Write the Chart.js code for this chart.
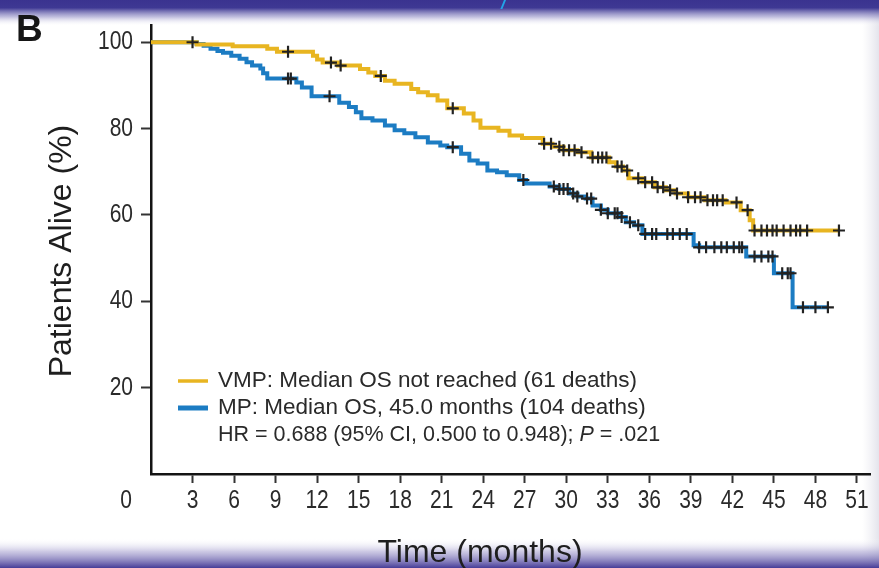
<!DOCTYPE html>
<html>
<head>
<meta charset="utf-8">
<script src="https://cdn.jsdelivr.net/npm/chart.js@4.4.1/dist/chart.umd.min.js"></script>
<style>
  html, body { margin: 0; padding: 0; background: #ffffff; }
  #wrap { width: 879px; height: 568px; position: relative; }
</style>
</head>
<body>
<div id="wrap"><canvas id="km" width="879" height="568"></canvas></div>
<script>
// Kaplan-Meier overall survival, VMP vs MP (months, % alive)
const vmpTimes = [0, 3.3, 5.9, 8.4, 9.1, 11.7, 12.0, 12.4, 13.5, 15.1, 15.7, 16.2, 16.9, 17.6, 18.8,
  19.3, 20.0, 20.7, 21.4, 22.6, 23.3, 23.8, 25.1, 25.9, 26.8, 28.3, 29.0, 29.8, 30.8, 31.8,
  33.1, 33.6, 34.1, 34.5, 35.5, 36.4, 37.2, 37.9, 38.8, 40.0, 41.5, 42.6, 43.25, 43.5, 49.7];
const vmpSurv = [100, 99.5, 99.1, 98.5, 97.8, 96.9, 96.0, 95.3, 94.6, 93.8, 93.0, 92.2, 91.1, 90.4, 89.2,
  88.4, 87.7, 86.5, 84.7, 83.5, 81.9, 80.2, 79.5, 78.4, 77.8, 76.5, 75.8, 75.0, 74.5, 73.3,
  72.2, 71.2, 70.3, 68.5, 67.6, 66.4, 65.7, 65.0, 64.1, 63.4, 62.9, 61.1, 58.8, 56.4, 56.4];
const vmpCensored = [3.0, 9.9, 13.0, 13.7, 16.6, 21.8, 28.4, 28.9, 29.5, 29.8, 30.2, 30.6, 31.1,
  31.9, 32.3, 32.6, 32.9, 33.7, 34.0, 34.4, 35.2, 35.7, 36.2, 36.6, 37.0, 37.5, 38.0, 38.8, 39.3,
  39.7, 40.2, 40.6, 40.9, 41.3, 42.3, 43.1, 43.6, 44.1, 44.5, 44.9, 45.2, 45.7, 46.2, 46.6, 46.9,
  47.4, 49.7];

const mpTimes = [0, 3.3, 3.8, 4.3, 4.8, 5.2, 5.8, 6.4, 6.9, 7.3, 7.9, 8.1, 8.4, 10.5, 10.9,
  11.6, 13.6, 14.3, 14.8, 15.2, 16.0, 16.9, 17.6, 18.3, 19.1, 20.0, 20.9, 21.4, 22.4, 23.0,
  23.6, 24.3, 25.0, 25.7, 26.6, 27.1, 28.8, 29.5, 30.2, 30.8, 31.4, 31.9, 32.5, 33.0, 33.8,
  34.3, 34.9, 35.5, 39.2, 39.6, 43.0, 45.0, 46.35, 48.9];
const mpSurv = [100, 99.6, 99.2, 98.5, 98.0, 97.6, 96.9, 96.2, 95.4, 94.6, 93.9, 92.8, 91.6, 90.7, 89.5,
  87.5, 86.0, 85.0, 83.8, 82.4, 81.9, 80.7, 79.6, 78.9, 78.0, 76.8, 76.1, 75.7, 74.2, 72.6,
  71.9, 70.3, 69.9, 69.2, 68.1, 67.3, 66.6, 66.0, 65.0, 64.3, 63.8, 62.2, 61.2, 60.4, 59.5,
  58.3, 57.6, 55.6, 53.0, 52.5, 50.4, 46.5, 38.6, 38.6];
const mpCensored = [9.9, 10.1, 12.9, 21.8, 26.9, 29.1, 29.5, 29.8, 30.1, 30.5, 30.8, 31.5, 31.8,
  32.5, 33.0, 33.5, 33.7, 34.0, 34.6, 35.2, 35.7, 36.2, 36.5, 37.3, 37.7, 38.2, 38.7, 39.6, 40.1,
  40.7, 41.2, 41.6, 42.1, 42.5, 42.7, 43.6, 44.1, 44.6, 44.9, 45.6, 46.0, 46.2, 47.1, 48.0, 48.9];

const xTickValues = [3, 6, 9, 12, 15, 18, 21, 24, 27, 30, 33, 36, 39, 42, 45, 48, 51];
const yTickValues = [20, 40, 60, 80, 100];

const seriesLabels = ['VMP: Median OS not reached (61 deaths)', 'MP: Median OS, 45.0 months (104 deaths)'];
const statText = ['HR = 0.688 (95% CI, 0.500 to 0.948); ', 'P', ' = .021'];
const panelLetter = 'B';
const xTitle = 'Time (months)';
const yTitle = 'Patients Alive (%)';
const originLabel = '0';

const VMP_COLOR = '#e8b521';
const MP_COLOR = '#1c7cc3';
const INK = '#2a2a2a';
const SANS = '"Liberation Sans", Arial, Helvetica, sans-serif';
const TICK_FONT = '25px ' + SANS;
const SQUEEZE = 0.84; // condensed look for the axis numbers

// survival value of a step curve at time t
function survAt(times, surv, t) {
  let v = surv[0];
  for (let i = 0; i < times.length; i++) { if (times[i] <= t) v = surv[i]; }
  return v;
}
const curve = (times, surv) => times.map((t, i) => ({ x: t, y: surv[i] }));
const marks = (cens, times, surv) => cens.map(t => ({ x: t, y: survAt(times, surv, t) }));

function narrowText(ctx, text, x, y, align) {
  ctx.save();
  ctx.translate(x, y);
  ctx.scale(SQUEEZE, 1);
  ctx.textAlign = align;
  ctx.fillText(text, 0, 0);
  ctx.restore();
}

const decorations = {
  id: 'decorations',
  beforeDraw(chart) {
    const { ctx, width, height } = chart;
    ctx.save();
    ctx.fillStyle = '#ffffff';
    ctx.fillRect(0, 0, width, height);
    // right-hand pale strip
    let g = ctx.createLinearGradient(862, 0, width, 0);
    g.addColorStop(0, 'rgba(236,236,242,0)');
    g.addColorStop(1, 'rgba(228,228,236,1)');
    ctx.fillStyle = g;
    ctx.fillRect(862, 0, width - 862, height);
    // top band
    g = ctx.createLinearGradient(0, 0, 0, 26);
    g.addColorStop(0, '#3a338f');
    g.addColorStop(0.3, '#3e3893');
    g.addColorStop(0.65, 'rgba(150,146,200,0.6)');
    g.addColorStop(1, 'rgba(255,255,255,0)');
    ctx.fillStyle = g;
    ctx.fillRect(0, 0, width, 26);
    // bottom band
    g = ctx.createLinearGradient(0, 538, 0, height);
    g.addColorStop(0, 'rgba(255,255,255,0)');
    g.addColorStop(0.45, 'rgba(170,164,210,0.6)');
    g.addColorStop(1, '#463c97');
    ctx.fillStyle = g;
    ctx.fillRect(0, 538, width, height - 538);
    // fragment of heading text
    ctx.fillStyle = '#22a3e8';
    ctx.font = 'bold italic 17px ' + SANS;
    ctx.textBaseline = 'alphabetic';
    ctx.fillText('/', 501, 9);
    ctx.restore();
  },
  afterDraw(chart) {
    const { ctx, chartArea } = chart;
    const xs = chart.scales.x, ys = chart.scales.y;
    ctx.save();
    // panel letter
    ctx.fillStyle = '#151515';
    ctx.font = 'bold 37px ' + SANS;
    ctx.textBaseline = 'alphabetic';
    ctx.textAlign = 'left';
    ctx.fillText(panelLetter, 16, 41);
    // axis numbers
    ctx.fillStyle = INK;
    ctx.font = TICK_FONT;
    ctx.textBaseline = 'middle';
    const labelY = chartArea.bottom + 27;
    xs.ticks.forEach(t => narrowText(ctx, String(t.value), xs.getPixelForValue(t.value), labelY, 'center'));
    ys.ticks.forEach(t => narrowText(ctx, String(t.value), chartArea.left - 18, ys.getPixelForValue(t.value), 'right'));
    narrowText(ctx, originLabel, xs.getPixelForValue(0) - 25, labelY, 'center');
    // axis titles
    ctx.fillStyle = '#1e1e1e';
    ctx.font = '32px ' + SANS;
    ctx.textAlign = 'center';
    ctx.fillText(xTitle, 480, 553);
    ctx.save();
    ctx.translate(62, 251);
    ctx.rotate(-Math.PI / 2);
    ctx.fillText(yTitle, 0, 0);
    ctx.restore();
    // legend
    const colors = [VMP_COLOR, MP_COLOR];
    const widths = [3.5, 5];
    const rows = [381, 408, 435];
    ctx.font = '22.5px ' + SANS;
    ctx.textAlign = 'left';
    ctx.textBaseline = 'middle';
    for (let i = 0; i < 2; i++) {
      ctx.strokeStyle = colors[i];
      ctx.lineWidth = widths[i];
      ctx.beginPath();
      ctx.moveTo(178, rows[i]);
      ctx.lineTo(208, rows[i]);
      ctx.stroke();
      ctx.fillStyle = INK;
      ctx.fillText(seriesLabels[i], 218, rows[i]);
    }
    ctx.font = '21.5px ' + SANS;
    let x = 218;
    ctx.fillText(statText[0], x, rows[2]);
    x += ctx.measureText(statText[0]).width;
    ctx.font = 'italic 21.5px ' + SANS;
    ctx.fillText(statText[1], x, rows[2]);
    x += ctx.measureText(statText[1]).width;
    ctx.font = '21.5px ' + SANS;
    ctx.fillText(statText[2], x, rows[2]);
    ctx.restore();
  }
};

const censorStyle = {
  showLine: false,
  pointStyle: 'cross',
  pointRadius: 6,
  pointBorderColor: '#222222',
  pointBorderWidth: 2.2,
  pointHoverRadius: 6,
  order: 0
};

new Chart(document.getElementById('km'), {
  type: 'line',
  data: {
    datasets: [
      { label: 'VMP', data: curve(vmpTimes, vmpSurv), borderColor: VMP_COLOR, borderWidth: 4,
        stepped: true, pointRadius: 0, fill: false, order: 1 },
      { label: 'MP', data: curve(mpTimes, mpSurv), borderColor: MP_COLOR, borderWidth: 4,
        stepped: true, pointRadius: 0, fill: false, order: 2 },
      Object.assign({ label: 'VMP censored', data: marks(vmpCensored, vmpTimes, vmpSurv) }, censorStyle),
      Object.assign({ label: 'MP censored', data: marks(mpCensored, mpTimes, mpSurv) }, censorStyle)
    ]
  },
  options: {
    responsive: false,
    animation: false,
    events: [],
    layout: { padding: { top: 25, right: 1, left: 0, bottom: 0 } },
    plugins: { legend: { display: false }, tooltip: { enabled: false } },
    scales: {
      x: {
        type: 'linear', min: 0, max: 52,
        afterFit(scale) { scale.height = 94; },
        afterBuildTicks(scale) { scale.ticks = xTickValues.map(v => ({ value: v })); },
        grid: { drawOnChartArea: false, drawTicks: true, tickLength: 9, tickWidth: 2, tickColor: '#333' },
        border: { display: true, color: '#141414', width: 2.5 },
        ticks: { display: false }
      },
      y: {
        type: 'linear', min: 0, max: 104,
        afterFit(scale) { scale.width = 151; },
        afterBuildTicks(scale) { scale.ticks = yTickValues.map(v => ({ value: v })); },
        grid: { drawOnChartArea: false, drawTicks: true, tickLength: 10, tickWidth: 2, tickColor: '#333' },
        border: { display: true, color: '#141414', width: 2.5 },
        ticks: { display: false }
      }
    }
  },
  plugins: [decorations]
});
</script>
</body>
</html>
